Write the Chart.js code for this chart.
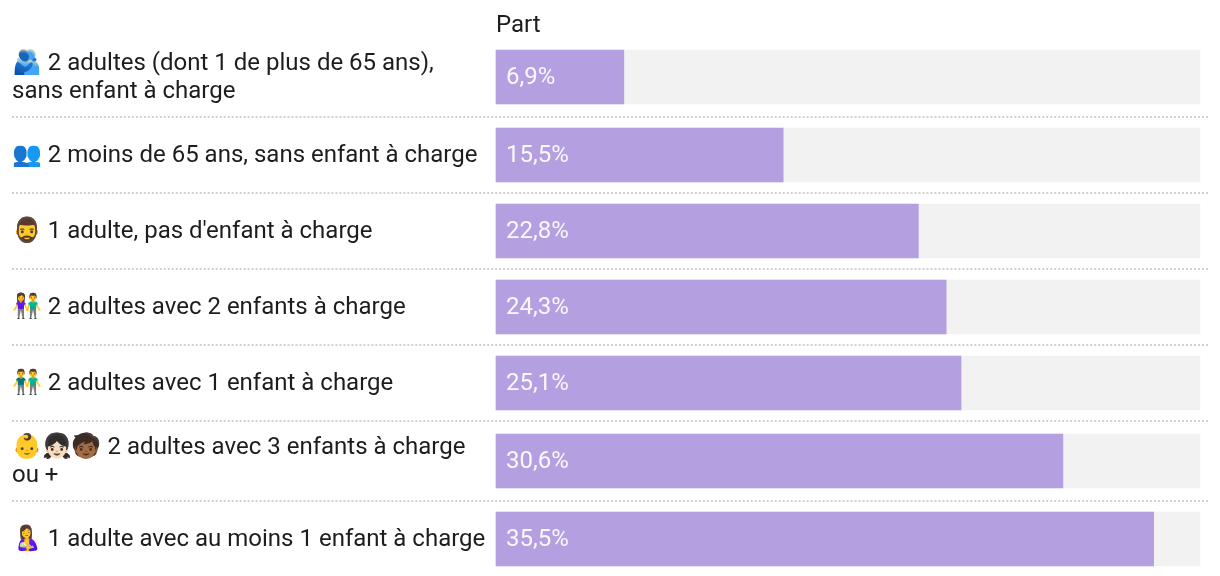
<!DOCTYPE html>
<html lang="fr">
<head>
<meta charset="utf-8">
<title>Part</title>
<script src="https://cdn.jsdelivr.net/npm/chart.js@4/dist/chart.umd.min.js"></script>
<style>
html,body{margin:0;padding:0;background:#fff;overflow:hidden}
canvas{display:block}
</style>
</head>
<body>
<canvas id="chart" width="1220" height="576"></canvas>
<script>
var categories = [
    ['🫂 2 adultes (dont 1 de plus de 65 ans),', 'sans enfant à charge'],
    '👥 2 moins de 65 ans, sans enfant à charge',
    '🧔‍♂️ 1 adulte, pas d\'enfant à charge',
    '👫 2 adultes avec 2 enfants à charge',
    '👬 2 adultes avec 1 enfant à charge',
    ['👶👧🏻🧒🏾 2 adultes avec 3 enfants à charge', 'ou +'],
    '🤱 1 adulte avec au moins 1 enfant à charge'
];
var values = [6.9, 15.5, 22.8, 24.3, 25.1, 30.6, 35.5];
var seriesName = 'Part';
var axisMax = 38;

var barHeight = 54;
var fontFamily = 'Roboto, "Noto Color Emoji", sans-serif';

function lineCount(label) {
    return Array.isArray(label) ? label.length : 1;
}

// rows with a wrapped label are a bit taller, so the category steps are not even
function rowHeight(label) {
    return Math.max(barHeight + 22, lineCount(label) * 28 + 24);
}

class RowScale extends Chart.CategoryScale {
    rowTop(index) {
        var y = this.top;
        for (let i = 0; i < index; i++) {
            y += rowHeight(categories[i]);
        }
        return y;
    }
    getPixelForValue(value) {
        var index = typeof value === 'number' ? value : this.parse(value);
        return this.rowTop(index) + rowHeight(categories[index]) / 2;
    }
    // labels sit slightly under the middle of the row
    getPixelForTick(index) {
        return this.getPixelForValue(index) + 1;
    }
}
RowScale.id = 'rows';
RowScale.defaults = Chart.CategoryScale.defaults;
Chart.register(RowScale);

var rowLines = {
    id: 'rowLines',
    beforeDatasetsDraw: function (chart) {
        var ctx = chart.ctx, y = chart.scales.y;
        ctx.save();
        ctx.strokeStyle = '#d0d0d0';
        ctx.lineWidth = 2;
        // dots stretched a little so the line starts and ends on a dot
        ctx.setLineDash([2, 1.9933]);
        for (let i = 1; i < categories.length; i++) {
            var py = y.rowTop(i);
            ctx.beginPath();
            ctx.moveTo(12, py);
            ctx.lineTo(1208, py);
            ctx.stroke();
        }
        ctx.restore();
    }
};

var valueLabels = {
    id: 'valueLabels',
    afterDatasetsDraw: function (chart) {
        var ctx = chart.ctx, bars = chart.getDatasetMeta(0).data;
        ctx.save();
        ctx.font = '400 24px ' + fontFamily;
        ctx.fillStyle = 'rgba(255,255,255,0.92)';
        ctx.textAlign = 'left';
        ctx.textBaseline = 'middle';
        bars.forEach(function (bar, i) {
            ctx.fillText(values[i].toFixed(1).replace('.', ',') + '%', bar.base + 10, bar.y + 1);
        });
        ctx.restore();
    }
};

new Chart(document.getElementById('chart'), {
    type: 'bar',
    data: {
        labels: categories,
        datasets: [
            {
                label: seriesName,
                data: values,
                backgroundColor: '#b4a0e0',
                barThickness: barHeight,
                grouped: false,
                clip: false,
                order: 1
            },
            {
                label: 'fond',
                data: values.map(function () { return axisMax; }),
                backgroundColor: '#f2f2f2',
                barThickness: barHeight,
                grouped: false,
                clip: false,
                order: 2
            }
        ]
    },
    plugins: [rowLines, valueLabels],
    options: {
        indexAxis: 'y',
        responsive: false,
        animation: false,
        layout: { padding: { left: 12, right: 20, top: 0, bottom: 0 } },
        plugins: { legend: { display: false }, tooltip: { enabled: false } },
        scales: {
            x: {
                position: 'top',
                min: 0,
                max: axisMax,
                afterFit: function (scale) { scale.height = 37; },
                grid: { display: false, drawTicks: false },
                border: { display: false },
                ticks: { display: false },
                title: {
                    display: true,
                    text: seriesName,
                    align: 'start',
                    color: '#1d1d1d',
                    font: { family: fontFamily, size: 24 },
                    padding: { top: 12, bottom: 0 }
                }
            },
            y: {
                type: 'rows',
                afterFit: function (scale) { scale.width = 484; },
                grid: { display: false, drawTicks: false },
                border: { display: false },
                ticks: {
                    autoSkip: false,
                    crossAlign: 'far',
                    color: '#1d1d1d',
                    font: { family: fontFamily, size: 24, lineHeight: 28 / 24 }
                }
            }
        }
    }
});
</script>
</body>
</html>
